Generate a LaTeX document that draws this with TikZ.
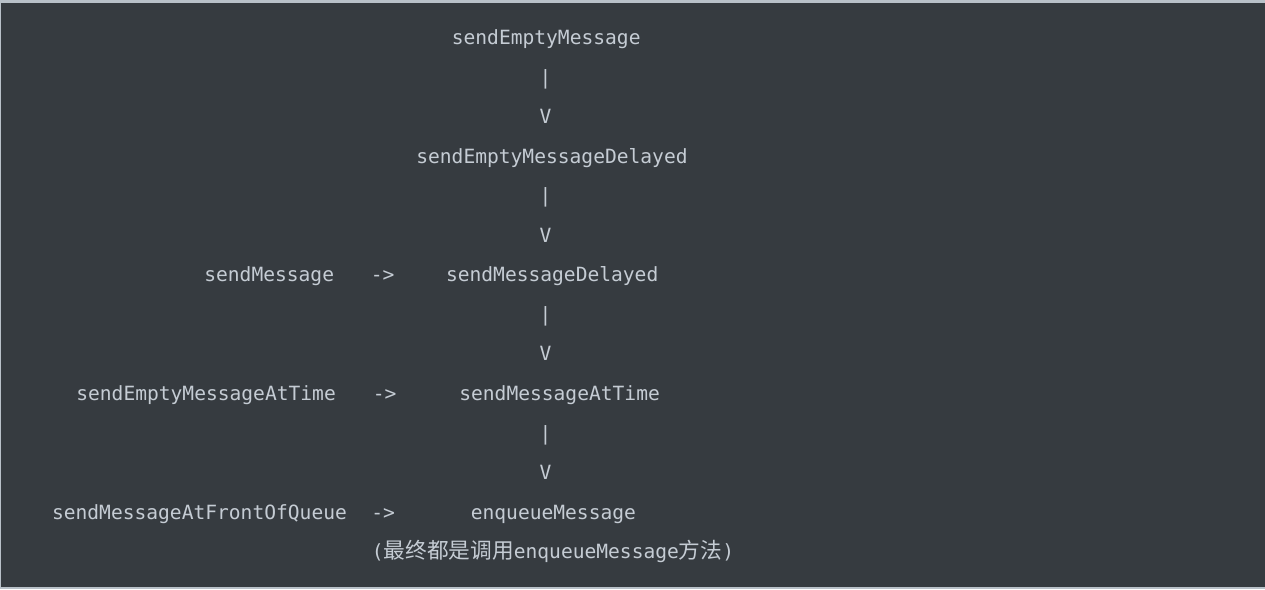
\documentclass[tikz,border=0pt]{standalone}
\usepackage{fontspec}
\setmonofont{DejaVu Sans Mono}
\newfontfamily\cjkfont{Noto Sans CJK SC}
\usepackage{tikz}
\definecolor{codebg}{HTML}{363B40}
\definecolor{codeframe}{HTML}{B9C1C9}
\definecolor{codetext}{HTML}{C5CCD4}

\begin{document}
\begin{tikzpicture}[x=0.02cm, y=-0.02cm,
		code/.style={anchor=base west, inner sep=0pt, text=codetext, font=\ttfamily\fontsize{11.15}{13}\selectfont},
		pipe/.style={code, anchor=base}]
		% Frame and background:
		\fill[codeframe] (0, 0) rectangle (1265, 589);
		\fill[codebg] (1.5, 2.5) rectangle (1265, 587);
		\useasboundingbox (0, 0) rectangle (1265, 589);
		% Call chain, one text line each:
		\node[code](N1) at (451.5, 44.4){sendEmptyMessage};
		\node[code](N2) at (416, 163.5){sendEmptyMessageDelayed};
		\node[code](N3) at (204, 281.7){sendMessage};
		\node[code](A1) at (370.5, 281.7){->};
		\node[code](N4) at (445.7, 281.7){sendMessageDelayed};
		\node[code](N5) at (76, 400.4){sendEmptyMessageAtTime};
		\node[code](A2) at (372.5, 400.4){->};
		\node[code](N6) at (459, 400.4){sendMessageAtTime};
		\node[code](N7) at (51.7, 519){sendMessageAtFrontOfQueue};
		\node[code](A3) at (371, 519){->};
		\node[code](N8) at (470.5, 519){enqueueMessage};
		\node[code](N9) at (371.5, 558.6){({\cjkfont\fontsize{12.35}{14}\selectfont 最终都是调用}enqueueMessage{\cjkfont\fontsize{12.35}{14}\selectfont 方法})};
		% Pipes and V marks:
		\foreach \i/\y in {1/84, 2/202.6, 3/321.3, 4/440}{
			\node[pipe](P\i) at (545.5, \y){|};
			\node[pipe](V\i) at (545.5, \y + 39.55){V};
		}
	\end{tikzpicture}
\end{document}
